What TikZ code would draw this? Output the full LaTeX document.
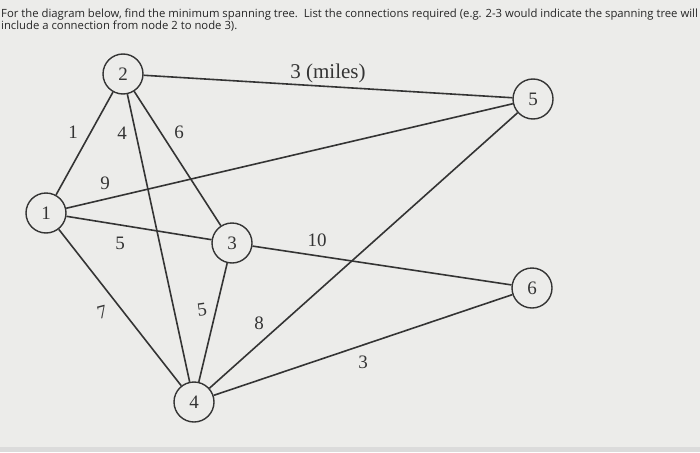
\documentclass[tikz,border=0pt]{standalone}
\usepackage{fontspec}
\setmainfont{Liberation Serif}
\newfontfamily\questfont{Open Sans}
\usetikzlibrary{positioning}
\definecolor{paper}{RGB}{236,236,234}
\definecolor{ink}{RGB}{52,52,52}
\tikzset{vertex/.style={circle,draw=ink,fill=paper,line width=1.4pt,
inner sep=0pt,minimum size=40pt,font=\fontsize{19}{19}\selectfont,text=ink}}
\tikzset{wlabel/.style={inner sep=1pt,font=\fontsize{19}{19}\selectfont,text=ink}}
\tikzset{link/.style={draw=ink,line width=1.6pt}}
\tikzset{quest/.style={anchor=base west,inner sep=0pt,text=black!85,
font=\questfont\fontsize{11.3}{12}\selectfont}}

\begin{document}
\begin{tikzpicture}[x=1pt,y=-1pt]

    \fill[paper] (0,0) rectangle (700,452);
    \fill[gray!28] (0,447) rectangle (700,452);
    \useasboundingbox (0,0) rectangle (700,452);

    \node[quest] (questA) at (1,17.5)
          {For the diagram below, find the minimum spanning tree.\ \ List the connections required (e.g. 2-3 would indicate the spanning tree will};
    \node[quest] (questB) at (1,29.5)
          {include a connection from node 2 to node 3).};

    \node[vertex] (n2) at (123, 74) {2};
    \node[vertex] (n1) at (46, 213) {1};
    \node[vertex] (n3) at (232, 243) {3};
    \node[vertex] (n5) at (533, 99) {5};
    \node[vertex] (n6) at (532, 288) {6};
    \node[vertex] (n4) at (194, 402) {4};

    \draw[link] (n1) -- (n2);
    \draw[link] (n2) -- (n4);
    \draw[link] (n2) -- (n3);
    \draw[link] (n2) -- (n5);
    \draw[link] (n1) -- (n5);
    \draw[link] (n1) -- (n3);
    \draw[link] (n1) -- (n4);
    \draw[link] (n3) -- (n4);
    \draw[link] (n3) -- (n6);
    \draw[link] (n4) -- (n5);
    \draw[link] (n4) -- (n6);

    \node[wlabel] (w12) at (73, 132) {1};
    \node[wlabel] (w24) at (122, 133) {4};
    \node[wlabel] (w23) at (179, 132) {6};
    \node[wlabel] (w15) at (105, 183) {9};
    \node[wlabel] (w13) at (120, 243) {5};
    \node[wlabel,font=\fontsize{21}{21}\selectfont] (w25) at (328, 73) {3 (miles)};
    \node[wlabel] (w36) at (317, 240) {10};
    \node[wlabel,rotate=15] (w14) at (102, 312) {7};
    \node[wlabel,rotate=8] (w34) at (202, 310) {5};
    \node[wlabel] (w45) at (259, 323) {8};
    \node[wlabel] (w46) at (363, 362) {3};

\end{tikzpicture}
\end{document}
